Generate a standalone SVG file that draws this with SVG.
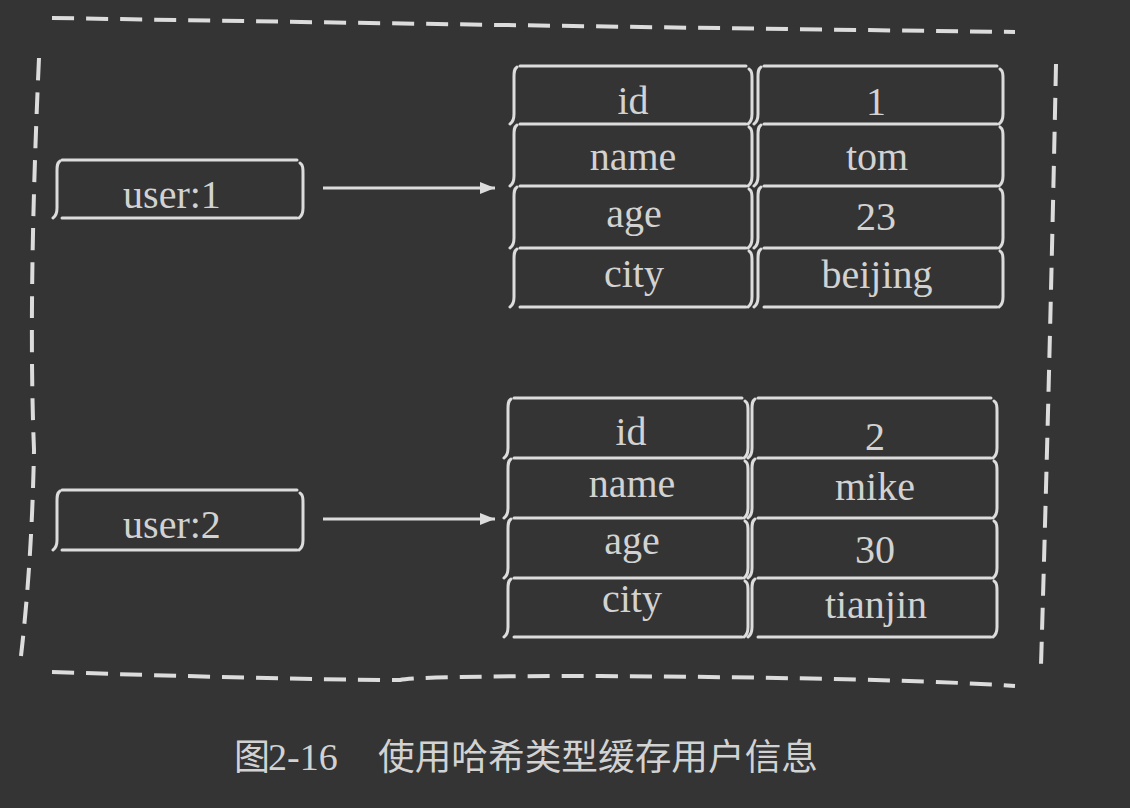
<svg xmlns="http://www.w3.org/2000/svg" width="1130" height="808" viewBox="0 0 1130 808">
<defs>
<style>
.bg{fill:#343434}
.ln{fill:none;stroke:#dcdcdc;stroke-width:3;stroke-linecap:round;stroke-linejoin:round}
.dash{fill:none;stroke:#dcdcdc;stroke-width:4;stroke-dasharray:22 12}
.t{font-family:"Liberation Serif",serif;font-size:40px;fill:#d2d2d2;text-anchor:middle}
.cap{font-family:"Liberation Serif","Noto Sans CJK SC",serif;font-size:36px;fill:#d2d2d2}
.cj{font-family:"Noto Sans CJK SC",sans-serif}
.con{fill:none;stroke:#dcdcdc;stroke-width:3}
</style>
<marker id="ah" markerUnits="userSpaceOnUse" markerWidth="16" markerHeight="14" refX="15" refY="7" orient="auto">
<path d="M0,1 L15,7 L0,13 z" fill="#dcdcdc"/>
</marker>
</defs>
<rect class="bg" x="0" y="0" width="1130" height="808"/>

<g id="frame">
<path class="dash" d="M52,18 Q540,26 1015,32"/>
<path class="dash" d="M1056,64 Q1050,360 1041,666"/>
<path class="dash" d="M52,672 Q300,680 400,680 Q420,676 600,676 Q900,678 1015,686"/>
<path class="dash" d="M39,58 Q28,300 34,450 Q32,560 21,656"/>
</g>

<g id="connectors">
<path class="con" d="M323,188 H495" marker-end="url(#ah)"/>
<path class="con" d="M323,519 H495" marker-end="url(#ah)"/>
</g>

<g id="user1">
<path class="ln" d="M62,160H297 M62,218H297 M60,161c-3,2-3,5-3,10V208c0,5-1,8-4,10 M300,163c3,2 3,5 3,11V208c0,5-1,8-4,10"/>
<text class="t" x="172" y="208">user:1</text>
</g>

<g id="user2">
<path class="ln" d="M62,490H297 M62,550H297 M60,491c-3,2-3,5-3,10V540c0,5-1,8-4,10 M300,493c3,2 3,5 3,11V540c0,5-1,8-4,10"/>
<text class="t" x="172" y="538">user:2</text>
</g>

<g id="hash1">
<path class="ln" d="M520,66H746 M520,124H746 M520,186H746 M520,248H746 M520,307H746
M517,67c-3,2-3,5-3,10V114c0,5-1,8-4,10
M517,125c-3,2-3,5-3,10V176c0,5-1,8-4,10
M517,187c-3,2-3,5-3,10V238c0,5-1,8-4,10
M517,249c-3,2-3,5-3,10V297c0,5-1,8-4,10
M749,69c3,2 3,5 3,11V114c0,5-1,8-4,10
M749,127c3,2 3,5 3,11V176c0,5-1,8-4,10
M749,189c3,2 3,5 3,11V238c0,5-1,8-4,10
M749,251c3,2 3,5 3,11V297c0,5-1,8-4,10"/>
<path class="ln" d="M764,66H997 M764,124H997 M764,186H997 M764,248H997 M764,307H997
M761,67c-3,2-3,5-3,10V114c0,5-1,8-4,10
M761,125c-3,2-3,5-3,10V176c0,5-1,8-4,10
M761,187c-3,2-3,5-3,10V238c0,5-1,8-4,10
M761,249c-3,2-3,5-3,10V297c0,5-1,8-4,10
M1000,69c3,2 3,5 3,11V114c0,5-1,8-4,10
M1000,127c3,2 3,5 3,11V176c0,5-1,8-4,10
M1000,189c3,2 3,5 3,11V238c0,5-1,8-4,10
M1000,251c3,2 3,5 3,11V297c0,5-1,8-4,10"/>
<text class="t" x="633" y="114">id</text>
<text class="t" x="876" y="115">1</text>
<text class="t" x="633" y="170">name</text>
<text class="t" x="877" y="170">tom</text>
<text class="t" x="634" y="227">age</text>
<text class="t" x="876" y="230">23</text>
<text class="t" x="634" y="287">city</text>
<text class="t" x="877" y="288">beijing</text>
</g>

<g id="hash2">
<path class="ln" d="M514,398H742 M514,458H742 M514,518H742 M514,578H742 M514,637H742
M511,399c-3,2-3,5-3,10V448c0,5-1,8-4,10
M511,459c-3,2-3,5-3,10V508c0,5-1,8-4,10
M511,519c-3,2-3,5-3,10V568c0,5-1,8-4,10
M511,579c-3,2-3,5-3,10V627c0,5-1,8-4,10
M745,401c3,2 3,5 3,11V448c0,5-1,8-4,10
M745,461c3,2 3,5 3,11V508c0,5-1,8-4,10
M745,521c3,2 3,5 3,11V568c0,5-1,8-4,10
M745,581c3,2 3,5 3,11V627c0,5-1,8-4,10"/>
<path class="ln" d="M758,398H991 M758,458H991 M758,518H991 M758,578H991 M758,637H991
M755,399c-3,2-3,5-3,10V448c0,5-1,8-4,10
M755,459c-3,2-3,5-3,10V508c0,5-1,8-4,10
M755,519c-3,2-3,5-3,10V568c0,5-1,8-4,10
M755,579c-3,2-3,5-3,10V627c0,5-1,8-4,10
M994,401c3,2 3,5 3,11V448c0,5-1,8-4,10
M994,461c3,2 3,5 3,11V508c0,5-1,8-4,10
M994,521c3,2 3,5 3,11V568c0,5-1,8-4,10
M994,581c3,2 3,5 3,11V627c0,5-1,8-4,10"/>
<text class="t" x="631" y="445">id</text>
<text class="t" x="875" y="450">2</text>
<text class="t" x="632" y="497">name</text>
<text class="t" x="875" y="500">mike</text>
<text class="t" x="632" y="554">age</text>
<text class="t" x="875" y="563">30</text>
<text class="t" x="632" y="612">city</text>
<text class="t" x="876" y="618">tianjin</text>
</g>

<text class="cap" y="770"><tspan class="cj" x="234">图</tspan><tspan x="268" font-size="38">2-16</tspan><tspan x="378" textLength="440" lengthAdjust="spacingAndGlyphs">使用哈希类型缓存用户信息</tspan></text>
</svg>
